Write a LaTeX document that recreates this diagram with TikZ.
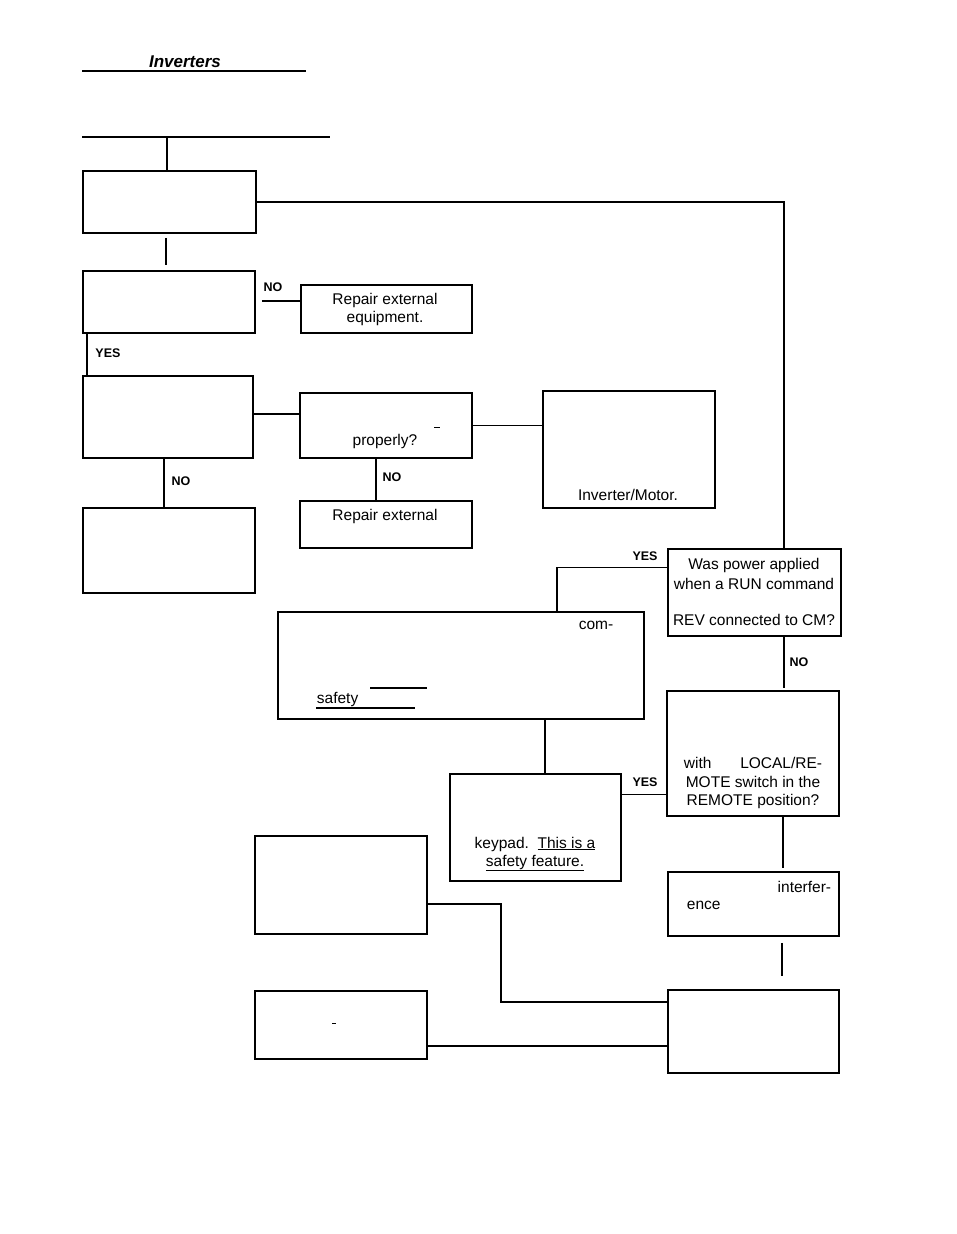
\documentclass[tikz,border=0pt]{standalone}
\usepackage{fontspec}
\setmainfont{Liberation Sans}
\usetikzlibrary{calc}
\begin{document}
\begin{tikzpicture}[x=1pt,y=-1pt,line width=1.8pt,
  box/.style={draw,line width=1.8pt,anchor=north west,inner sep=0pt},
  txt/.style={inner sep=0pt,font=\fontsize{15.5}{18}\selectfont},
  lab/.style={inner sep=0pt,font=\fontsize{12.5}{14}\selectfont\bfseries}]
\useasboundingbox (0,0) rectangle (956,1234);
% header
\node[inner sep=0pt,font=\fontsize{17}{20}\selectfont\bfseries\itshape] (title) at (185,62) {Inverters};
\coordinate (hl1a) at (82,71); \coordinate (hl1b) at (306,71);
\draw[line width=1.2pt] (hl1a) -- (hl1b);
\coordinate (hl2a) at (82,137); \coordinate (hl2b) at (330,137);
\draw[line width=2.4pt] (hl2a) -- (hl2b);
% boxes
\node[box,minimum width=173,minimum height=62] (b1) at (82,170) {};
\node[box,minimum width=172,minimum height=62] (b2) at (82,270) {};
\node[box,minimum width=171,minimum height=48] (r1) at (300,284) {};
\node[box,minimum width=170,minimum height=82] (b3) at (82,375) {};
\node[box,minimum width=172,minimum height=65] (b4) at (299,392) {};
\node[box,minimum width=172,minimum height=117] (b5) at (542,390) {};
\node[box,minimum width=172,minimum height=85] (b6) at (82,507) {};
\node[box,minimum width=172,minimum height=47] (r2) at (299,500) {};
\node[box,minimum width=173,minimum height=87] (b8) at (667,548) {};
\node[box,minimum width=366,minimum height=107] (b9) at (277,611) {};
\node[box,minimum width=172,minimum height=125] (b10) at (666,690) {};
\node[box,minimum width=171,minimum height=107] (b11) at (449,773) {};
\node[box,minimum width=171,minimum height=64] (b12) at (667,871) {};
\node[box,minimum width=171,minimum height=83] (b13) at (667,989) {};
\node[box,minimum width=172,minimum height=98] (b14) at (254,835) {};
\node[box,minimum width=172,minimum height=68] (b15) at (254,990) {};
% texts
\node[txt] (tr1a) at (385,300) {Repair external};
\node[txt] (tr1b) at (385,318) {equipment.};
\node[txt] (tb4) at (385,441) {properly?};
\node[txt] (tb5) at (628,495) {Inverter/Motor.};
\node[txt] (tr2) at (385,516) {Repair external};
\node[txt] (tb8a) at (754,565) {Was power applied};
\node[txt] (tb8b) at (754,584) {when a RUN command};
\node[txt] (tb8c) at (754,620) {REV connected to CM?};
\node[txt] (tb9a) at (596,625) {com-};
\node[txt,anchor=west] (tb9b) at (316,699) {safety};
\node[txt,anchor=west] (tb10a) at (683,763) {with};
\node[txt,anchor=east] (tb10b) at (823,763) {LOCAL/RE-};
\node[txt] (tb10c) at (753,782) {MOTE switch in the};
\node[txt] (tb10d) at (753,801) {REMOTE position?};
\node[txt] (tb11a) at (535,844) {keypad.\ \ \underline{This is a}};
\node[txt] (tb11b) at (535,863) {\underline{safety feature.}};
\node[txt,anchor=east] (tb12a) at (832,887) {interfer-};
\node[txt,anchor=west] (tb12b) at (686,905) {ence};
% labels
\node[lab] (lno1) at (273,287) {NO};
\node[lab] (lyes1) at (108,353) {YES};
\node[lab] (lno2) at (181,481) {NO};
\node[lab] (lno3) at (392,477) {NO};
\node[lab] (lyes2) at (645,556) {YES};
\node[lab] (lno4) at (799,662) {NO};
\node[lab] (lyes3) at (645,782) {YES};
% connector x positions
\coordinate (x167) at (167,0);
\coordinate (x166) at (166,0);
\coordinate (x164) at (164,0);
\coordinate (x376) at (376,0);
\coordinate (x87) at (87,0);
\coordinate (x784) at (784,0);
\coordinate (x783) at (783,0);
\coordinate (x782) at (782,0);
\coordinate (x545) at (545,0);
% connectors
\draw (x167 |- hl2a) -- (x167 |- b1.north);
\draw (b1.east) -| (x784 |- b8.north);
\draw[line width=2.4pt] ($(x166 |- b1.south)+(0,4)$) -- ($(x166 |- b2.north)+(0,-5)$);
\draw ($(b2.east)+(6,-1)$) -- (r1.west |- {$(b2.east)+(6,-1)$});
\draw (x87 |- b2.south) -- (x87 |- b3.north);
\draw ($(b3.east)+(0,-3)$) -- (b4.west |- {$(b3.east)+(0,-3)$});
\draw (b4.east) -- (b5.west |- b4.east);
\draw (x164 |- b3.south) -- (x164 |- b6.north);
\draw (x376 |- b4.south) -- (x376 |- r2.north);
\draw ($(b8.west)+(0,-25)$) -| ($(b9.north)+(96,0)$);
\draw (x784 |- b8.south) -- ($(x784 |- b10.north)+(0,-2)$);
\draw (x545 |- b9.south) -- (x545 |- b11.north);
\draw ($(b11.east)+(0,-33)$) -- (b10.west |- {$(b11.east)+(0,-33)$});
\draw (x783 |- b10.south) -- ++(0,51);
\draw ($(x782 |- b12.south)+(0,6)$) -- ++(0,33);
\draw ($(b14.east)+(0,19)$) -| ($(b13.west)+(-166,-29.5)$) -- ($(b13.west)+(0,-29.5)$);
\draw ($(b15.east)+(0,21)$) -- (b13.west |- {$(b15.east)+(0,21)$});
% underline strokes in b9 and scan marks
\draw[line width=1.1pt] (370,688) -- (427,688);
\draw[line width=1.1pt] (316,708) -- (415,708);
\draw[line width=1pt] (434,427) -- (440,427);
\draw[line width=1pt] (332,1023) -- (336,1023);
\end{tikzpicture}
\end{document}
